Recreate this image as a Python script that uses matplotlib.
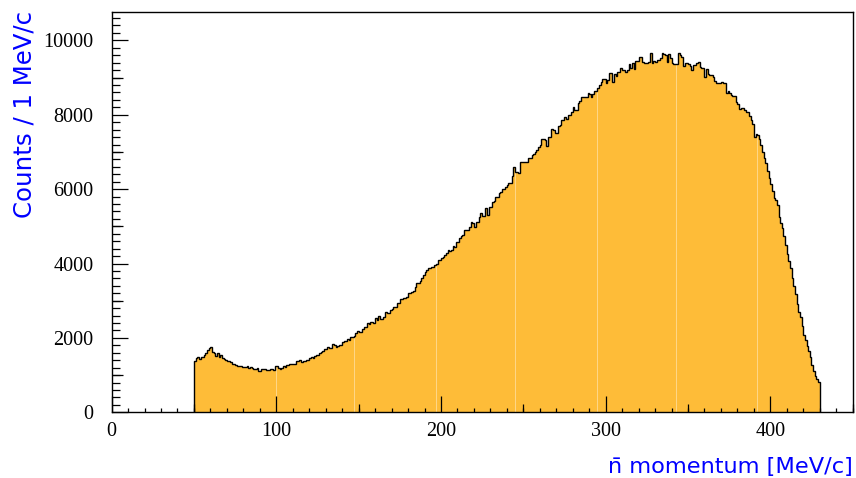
import numpy as np
import matplotlib
matplotlib.use("Agg")
import matplotlib.pyplot as plt
from matplotlib.ticker import MultipleLocator, FixedLocator

# Histogram: 1 MeV/c bins from 50 to 430 MeV/c
bin_low = 50
bin_high = 430
counts = [
    1380, 1460, 1490, 1440, 1500, 1490, 1550, 1600, 1680, 1720,   # 50
    1760, 1630, 1600, 1520, 1590, 1500, 1540, 1450, 1430, 1400,   # 60
    1390, 1370, 1345, 1300, 1290, 1270, 1250, 1245, 1235, 1230,   # 70
    1220, 1215, 1250, 1200, 1210, 1205, 1165, 1170, 1180, 1110,   # 80
    1115, 1165, 1160, 1165, 1140, 1150, 1165, 1160, 1135, 1250,   # 90
    1240, 1200, 1170, 1180, 1250, 1215, 1280, 1270, 1290, 1295,   # 100
    1310, 1300, 1390, 1370, 1400, 1360, 1380, 1390, 1420, 1400,   # 110
    1450, 1480, 1460, 1510, 1540, 1530, 1590, 1620, 1660, 1700,   # 120
    1705, 1746, 1720, 1720, 1836, 1809, 1765, 1770, 1809, 1810,   # 130
    1898, 1925, 1925, 1961, 1943, 2015, 2015, 2051, 2140, 2194,   # 140
    2167, 2167, 2230, 2284, 2284, 2409, 2373, 2436, 2436, 2409,   # 150
    2526, 2481, 2597, 2499, 2520, 2570, 2705, 2680, 2660, 2750,   # 160
    2768, 2839, 2839, 2946, 2928, 3037, 3040, 3064, 3080, 3108,   # 170
    3216, 3216, 3243, 3250, 3360, 3467, 3470, 3539, 3600, 3680,   # 180
    3760, 3820, 3870, 3870, 3915, 3915, 3960, 4000, 4090, 4094,   # 190
    4139, 4180, 4229, 4274, 4363, 4350, 4360, 4470, 4450, 4587,   # 200
    4587, 4676, 4739, 4760, 4900, 4890, 4890, 4972, 5124, 5080,   # 210
    4972, 5124, 5124, 5259, 5349, 5290, 5290, 5483, 5304, 5528,   # 220
    5528, 5662, 5680, 5797, 5797, 5886, 5930, 5994, 5994, 6065,   # 230
    6100, 6173, 6173, 6352, 6603, 6469, 6469, 6424, 6737, 6720,   # 240
    6720, 6737, 6737, 6827, 6827, 6917, 6940, 7006, 7040, 7141,   # 250
    7200, 7338, 7338, 7320, 7160, 7409, 7409, 7606, 7590, 7500,   # 260
    7500, 7697, 7720, 7858, 7858, 7929, 7875, 7992, 7992, 8082,   # 270
    8216, 8130, 8130, 8306, 8370, 8467, 8467, 8485, 8485, 8592,   # 280
    8570, 8467, 8570, 8646, 8646, 8709, 8799, 8888, 8951, 8951,   # 290
    8843, 8930, 9112, 9112, 8888, 9100, 9030, 9157, 9157, 9246,   # 300
    9200, 9200, 9140, 9200, 9363, 9246, 9380, 9220, 9444, 9444,   # 310
    9560, 9540, 9425, 9380, 9380, 9400, 9425, 9650, 9400, 9440,   # 320
    9426, 9471, 9471, 9516, 9668, 9640, 9605, 9426, 9632, 9516,   # 330
    9390, 9370, 9355, 9370, 9650, 9600, 9543, 9300, 9390, 9380,   # 340
    9370, 9310, 9200, 9335, 9350, 9400, 9426, 9290, 9246, 9246,   # 350
    9004, 9220, 9094, 9070, 9070, 9004, 8914, 8860, 8860, 8843,   # 360
    8880, 8860, 8843, 8574, 8646, 8592, 8530, 8503, 8503, 8341,   # 370
    8280, 8144, 8170, 8170, 8125, 8082, 8082, 7965, 7858, 7750,   # 380
    7400, 7470, 7460, 7350, 7200, 7000, 6850, 6700, 6480, 6300,   # 390
    6130, 5950, 5770, 5700, 5573, 5259, 5098, 4950, 4750, 4500,   # 400
    4260, 4080, 3880, 3620, 3400, 3180, 2900, 2700, 2560, 2330,   # 410
    2080, 1950, 1780, 1650, 1500, 1280, 1100, 980, 900, 823,      # 420
]

x_range = (0, 450)
y_range = (0, 10770)
x_ticks = [0, 100, 200, 300, 400]
y_ticks = [0, 2000, 4000, 6000, 8000, 10000]
x_title = "n\u0304 momentum [MeV/c]"
y_title = "Counts / 1 MeV/c"

fill_color = "#FEBC38"
seam_color = "#FFDC96"
title_color = "#0000FF"

edges = np.arange(bin_low, bin_high + 1)
counts = np.asarray(counts)

fig = plt.figure(figsize=(8.56, 4.78), dpi=100)
ax = fig.add_axes([0.1304, 0.1374, 0.8657, 0.8381])

ax.stairs(counts, edges, fill=True, color=fill_color, lw=0, zorder=1)

# faint seams between fill tiles
seam_bins = np.array([100, 147, 197, 245, 295, 343, 392])
ax.vlines(seam_bins, 0, counts[seam_bins - bin_low], color=seam_color,
          lw=0.6, zorder=1.5)

ax.stairs(counts, edges, baseline=0, color="black", lw=1.0, zorder=2)

ax.set_xlim(*x_range)
ax.set_ylim(*y_range)

ax.xaxis.set_major_locator(FixedLocator(x_ticks))
ax.xaxis.set_minor_locator(MultipleLocator(10))
ax.yaxis.set_major_locator(FixedLocator(y_ticks))
ax.yaxis.set_minor_locator(MultipleLocator(200))

tick_font = {"family": "Liberation Serif", "size": 14.5}
ax.set_xticklabels([str(t) for t in x_ticks], fontdict=tick_font)
ax.set_yticklabels([str(t) for t in y_ticks], fontdict=tick_font)

ax.tick_params(axis="both", which="both", direction="in", top=False,
               right=False, width=0.9, color="black", zorder=3)
ax.tick_params(axis="x", which="major", length=11.2, pad=7)
ax.tick_params(axis="x", which="minor", length=2.9)
ax.tick_params(axis="y", which="major", length=11.2, pad=13)
ax.tick_params(axis="y", which="minor", length=5.6)

# medium-length ticks at the odd fifties
ax.vlines(np.arange(50, x_range[1] + 1, 100), 0, 8.0 / 400.6,
          transform=ax.get_xaxis_transform(), color="black", lw=0.9,
          zorder=3, clip_on=False)
ax.hlines(np.arange(1000, y_range[1], 2000), 0, 11.0 / 741.0,
          transform=ax.get_yaxis_transform(), color="black", lw=0.9,
          zorder=3, clip_on=False)

for sp in ax.spines.values():
    sp.set_linewidth(1.0)
    sp.set_zorder(4)

fig.text(852.7 / 856, 1 - 467.5 / 478, x_title, ha="right", va="center",
         color=title_color, fontsize=16.2, family="DejaVu Sans")
fig.text(24.5 / 856, 1 - 11 / 478, y_title, ha="center", va="top",
         rotation=90, color=title_color, fontsize=17.6, family="DejaVu Sans")

fig.savefig("out.png", dpi=100)
